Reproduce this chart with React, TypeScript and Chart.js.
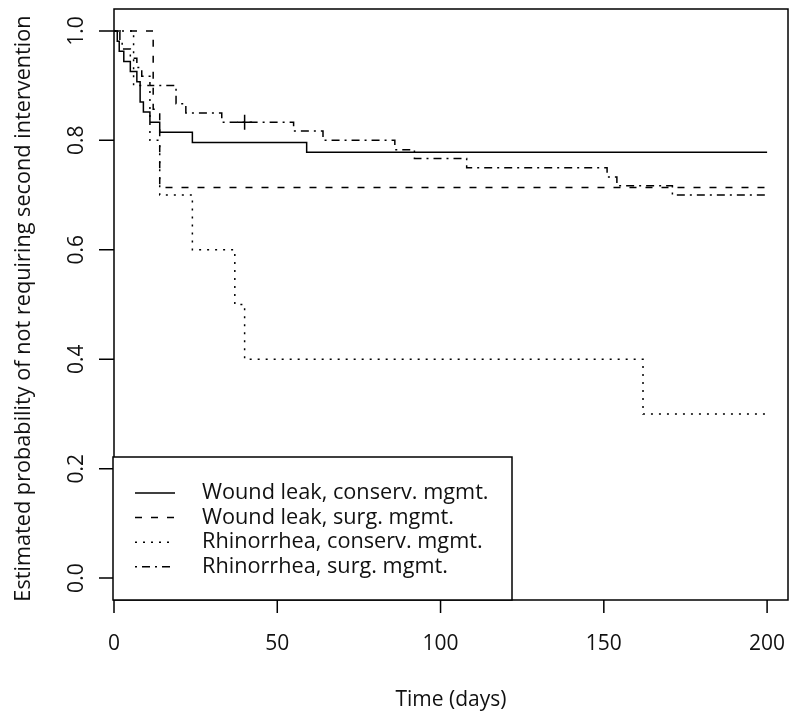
import React, { useEffect, useRef } from "react";
import { Chart, registerables } from "chart.js";

Chart.register(...registerables);

// ---- data ----
const seriesNames = [
  "Wound leak, conserv. mgmt.",
  "Wound leak, surg. mgmt.",
  "Rhinorrhea, conserv. mgmt.",
  "Rhinorrhea, surg. mgmt.",
];

const woundConservTimes = [0, 1, 1.6, 3, 5, 7, 8, 9, 11, 14, 24, 59, 200];
const woundConservSurv = [1, 0.981, 0.963, 0.944, 0.926, 0.907, 0.87, 0.852, 0.833, 0.815, 0.796, 0.778, 0.778];

const woundSurgTimes = [0, 12, 14, 200];
const woundSurgSurv = [1, 0.857, 0.714, 0.714];

const rhinoConservTimes = [0, 6, 11, 14, 24, 37, 40, 162, 200];
const rhinoConservSurv = [1, 0.9, 0.8, 0.7, 0.6, 0.5, 0.4, 0.3, 0.3];

const rhinoSurgTimes = [0, 1.8, 2.5, 5, 7, 8.5, 11, 19, 22, 33, 55, 64, 86, 92, 108, 151, 154, 171, 200];
const rhinoSurgSurv = [1, 0.983, 0.967, 0.95, 0.933, 0.917, 0.9, 0.867, 0.85, 0.833, 0.817, 0.8, 0.783, 0.767, 0.75, 0.733, 0.717, 0.7, 0.7];

const censorTimes = [40];
const censorSurv = [0.833];

const xTicks = [0, 50, 100, 150, 200];
const yTicks = [0, 0.2, 0.4, 0.6, 0.8, 1.0];
const yTickLabels = ["0.0", "0.2", "0.4", "0.6", "0.8", "1.0"];
const xTitle = "Time (days)";
const yTitle = "Estimated probability of not requiring second intervention";

// ---- styles ----
const FONT = '21px "Open Sans"';
const FONT_BIG = '21.7px "Open Sans"';
const TEXT_COLOR = "#111";
const dashPatterns: number[][] = [[], [7, 9], [2, 6], [2, 5, 8, 5]];

const toPoints = (t: number[], s: number[]) => t.map((v, i) => ({ x: v, y: s[i] }));

const rAxesPlugin = {
  id: "rAxes",
  afterDraw(chart: any) {
    const { ctx, chartArea: a } = chart;
    const xs = chart.scales.x;
    const ys = chart.scales.y;
    ctx.save();
    ctx.strokeStyle = "#000";
    ctx.lineWidth = 1.5;
    ctx.setLineDash([]);
    // box
    ctx.strokeRect(a.left, a.top, a.right - a.left, a.bottom - a.top);

    ctx.font = FONT;
    ctx.fillStyle = TEXT_COLOR;
    ctx.textAlign = "center";
    ctx.textBaseline = "middle";

    // x axis ticks
    ctx.beginPath();
    xTicks.forEach((t) => {
      const px = xs.getPixelForValue(t);
      ctx.moveTo(px, a.bottom);
      ctx.lineTo(px, a.bottom + 13);
    });
    ctx.stroke();
    xTicks.forEach((t) => {
      ctx.fillText(String(t), xs.getPixelForValue(t), a.bottom + 44);
    });
    ctx.fillText(xTitle, (a.left + a.right) / 2, a.bottom + 100);

    // y axis ticks
    ctx.beginPath();
    yTicks.forEach((v) => {
      const py = ys.getPixelForValue(v);
      ctx.moveTo(a.left - 15, py);
      ctx.lineTo(a.left, py);
    });
    ctx.stroke();
    yTicks.forEach((v, i) => {
      const py = ys.getPixelForValue(v);
      ctx.save();
      ctx.translate(a.left - 37, py);
      ctx.rotate(-Math.PI / 2);
      ctx.fillText(yTickLabels[i], 0, 0);
      ctx.restore();
    });
    ctx.save();
    ctx.font = FONT_BIG;
    ctx.translate(24, (a.top + a.bottom) / 2 + 4);
    ctx.rotate(-Math.PI / 2);
    ctx.fillText(yTitle, 0, 0);
    ctx.restore();

    // legend
    const lx = a.left - 1;
    const lw = 399;
    const lt = 457;
    const lb = a.bottom;
    ctx.fillStyle = "#fff";
    ctx.fillRect(lx, lt, lw, lb - lt);
    ctx.strokeStyle = "#000";
    ctx.lineWidth = 1.5;
    ctx.strokeRect(lx, lt, lw, lb - lt);
    ctx.textAlign = "left";
    ctx.fillStyle = TEXT_COLOR;
    ctx.font = FONT_BIG;
    seriesNames.forEach((name, i) => {
      const ry = 493 + i * 24.6;
      ctx.beginPath();
      ctx.setLineDash(dashPatterns[i]);
      ctx.lineWidth = 1.5;
      ctx.moveTo(a.left + 21, ry);
      ctx.lineTo(a.left + 61, ry);
      ctx.stroke();
      ctx.setLineDash([]);
      ctx.fillText(name, a.left + 88, ry);
    });
    ctx.restore();
  },
};

export default function App() {
  const ref = useRef<HTMLCanvasElement | null>(null);
  useEffect(() => {
    if (!ref.current) return;
    const seriesPts = [
      toPoints(woundConservTimes, woundConservSurv),
      toPoints(woundSurgTimes, woundSurgSurv),
      toPoints(rhinoConservTimes, rhinoConservSurv),
      toPoints(rhinoSurgTimes, rhinoSurgSurv),
    ];
    const datasets: any[] = seriesPts.map((pts, i) => ({
      label: seriesNames[i],
      data: pts,
      stepped: "before",
      borderColor: "#000",
      borderWidth: 1.5,
      borderDash: dashPatterns[i],
      pointRadius: 0,
      fill: false,
    }));
    datasets.push({
      type: "scatter",
      label: "censored",
      data: toPoints(censorTimes, censorSurv),
      pointStyle: "cross",
      pointRadius: 7.5,
      borderColor: "#000",
      borderWidth: 1.5,
      showLine: false,
    });
    const chart = new Chart(ref.current, {
      type: "line",
      data: { datasets },
      options: {
        responsive: false,
        animation: false,
        layout: { padding: { left: 114, right: 12, top: 6, bottom: 119 } },
        scales: {
          x: { type: "linear", min: 0, max: 206.4, display: false },
          y: { type: "linear", min: -0.04, max: 1.04, display: false },
        },
        plugins: { legend: { display: false }, tooltip: { enabled: false } },
      },
      plugins: [rAxesPlugin],
    });
    return () => chart.destroy();
  }, []);
  return (
    <div style={{ position: "fixed", left: 0, top: 0, width: 800, height: 719, background: "#fff" }}>
      <canvas ref={ref} width={800} height={719} style={{ width: 800, height: 719 }} />
    </div>
  );
}
